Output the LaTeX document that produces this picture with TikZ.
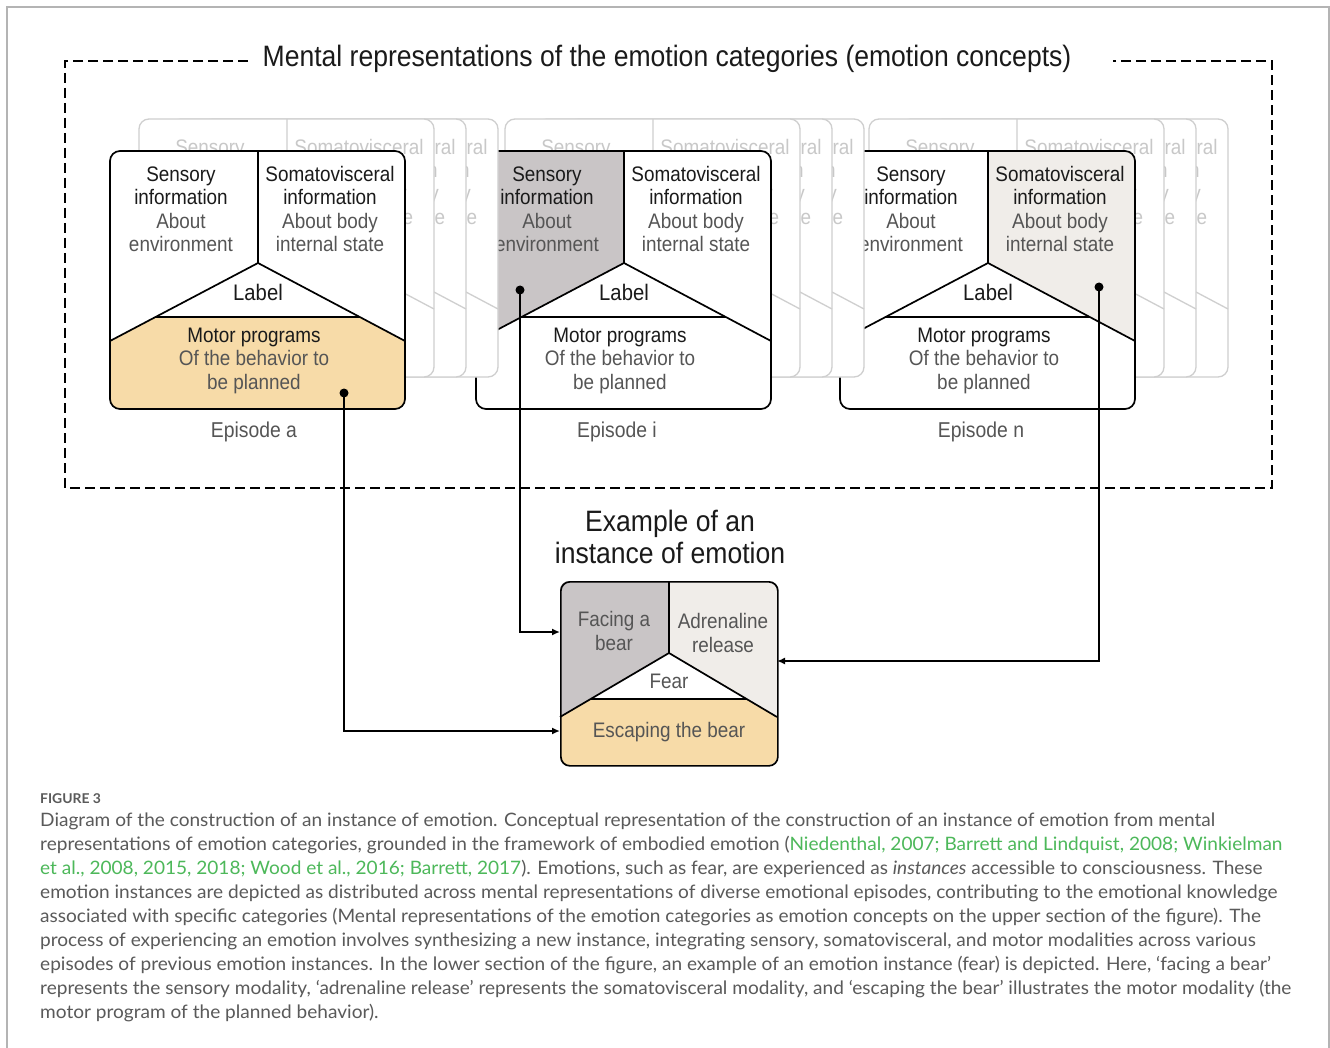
\documentclass[tikz,border=0pt]{standalone}
\usepackage{fontspec}
\setmainfont{Liberation Sans}
\newfontfamily\cardfont[FakeStretch=0.9]{Liberation Sans}
\newfontfamily\capfont[FakeStretch=1.03]{Lato}
\usetikzlibrary{arrows.meta}
\definecolor{ghostline}{HTML}{CFCFCF}
\definecolor{ghosttext}{HTML}{C8C8C8}
\definecolor{subgray}{HTML}{555555}
\definecolor{maintext}{HTML}{1A1A1A}
\definecolor{sensfill}{HTML}{C9C5C6}
\definecolor{somafill}{HTML}{F0EDE9}
\definecolor{motorfill}{HTML}{F7DBA8}
\definecolor{capgray}{HTML}{5A5A5A}
\definecolor{citegreen}{HTML}{4DB85A}
\definecolor{framegray}{HTML}{B4B4B4}
\tikzset{
  frontstroke/.style={draw=black, line width=1.7pt},
  ghoststroke/.style={draw=ghostline, line width=1.3pt},
  ctxt/.style={font=\cardfont\fontsize{21}{24}\selectfont, inner sep=0pt, anchor=base},
  ltxt/.style={font=\cardfont\fontsize{22.5}{26}\selectfont, inner sep=0pt, anchor=base},
  bigtxt/.style={font=\cardfont\fontsize{29.5}{32}\selectfont, inner sep=0pt, anchor=base, text=maintext},
  eptxt/.style={font=\cardfont\fontsize{21.5}{24}\selectfont, inner sep=0pt, anchor=base, text=subgray},
  captxt/.style={font=\capfont\fontsize{18.5}{24}\selectfont, inner sep=0pt, anchor=base west, text=capgray},
  conn/.style={line width=2.3pt, -{Latex[length=8pt,width=7pt]}},
  dotmark/.style={fill=black},
  dashbox/.style={line width=2.2pt, dash pattern=on 10pt off 5pt},
}
\newif\ifghostcard
\newif\ifghostsens
% card outline and cells: #1 x, #2 y, #3 stroke style, #4 #5 #6 fills
\newcommand\cardshape[6]{%
\begin{scope}[shift={(#1,#2)}]
\fill[white, rounded corners=10pt] (0,0) rectangle (295,258);
\begin{scope}
\clip[rounded corners=10pt] (0,0) rectangle (295,258);
\fill[#4] (0,0) -- (148,0) -- (148,112) -- (0,190) -- cycle;
\fill[#5] (148,0) -- (295,0) -- (295,190) -- (148,112) -- cycle;
\fill[#6] (0,190) -- (45.5,166) -- (249.8,166) -- (295,190) -- (295,258) -- (0,258) -- cycle;
\end{scope}
\draw[#3] (148,0) -- (148,112) (0,190) -- (148,112) -- (295,190) (45.5,166) -- (249.8,166);
\draw[#3, rounded corners=10pt] (0,0) rectangle (295,258);
\end{scope}}
% front card: #1 x, #2 y, #3 prefix, #4 #5 #6 fills
\newcommand\frontcard[6]{%
\cardshape{#1}{#2}{frontstroke}{#4}{#5}{#6}%
\begin{scope}[shift={(#1,#2)}]
\node[ctxt, text=maintext] (#3s1) at (71,30.7) {Sensory};
\node[ctxt, text=maintext] (#3s2) at (71,54) {information};
\node[ctxt, text=subgray] (#3s3) at (71,77.5) {About};
\node[ctxt, text=subgray] (#3s4) at (71,101) {environment};
\node[ctxt, text=maintext] (#3v1) at (220,30.7) {Somatovisceral};
\node[ctxt, text=maintext] (#3v2) at (220,54) {information};
\node[ctxt, text=subgray] (#3v3) at (220,77.5) {About body};
\node[ctxt, text=subgray] (#3v4) at (220,101) {internal state};
\node[ltxt, text=maintext] (#3l) at (148,149.7) {Label};
\node[ctxt, text=maintext] (#3m1) at (144,191.3) {Motor programs};
\node[ctxt, text=subgray] (#3m2) at (144,214.7) {Of the behavior to};
\node[ctxt, text=subgray] (#3m3) at (144,238.3) {be planned};
\end{scope}}
% ghost card (only the texts that can show): #1 x, #2 y, #3 prefix
\newcommand\ghostcard[3]{%
\cardshape{#1}{#2}{ghoststroke}{white}{white}{white}%
\begin{scope}[shift={(#1,#2)}, every node/.append style={text=ghosttext}]
\ifghostsens\node[ctxt] (#3s1) at (71,35.2) {Sensory};\fi
\node[ctxt] (#3v1) at (220,35.2) {Somatovisceral};
\node[ctxt] (#3v2) at (220,58.5) {information};
\node[ctxt] (#3v3) at (220,82) {About body};
\node[ctxt] (#3v4) at (220,105.5) {internal state};
\end{scope}}
\newcommand\ghostset[2]{%
\ghostsensfalse
\ghostcard{#1+93}{#2-32}{g3#1}%
\ghostcard{#1+61}{#2-32}{g2#1}%
\ghostsenstrue
\ghostcard{#1+29}{#2-32}{g1#1}}
\begin{document}
\begin{tikzpicture}[x=1pt,y=-1pt]
\useasboundingbox (0,0) rectangle (1330,1048);
\fill[white] (0,0) rectangle (1330,1048);
\draw[framegray, line width=1.5pt] (7,1048) -- (7,7) -- (1329,7) -- (1329,1048);
% episodes, drawn right to left
\ghostset{840}{151}
\frontcard{840}{151}{en}{white}{somafill}{white}
\ghostset{476}{151}
\frontcard{476}{151}{ei}{sensfill}{white}{white}
\ghostset{110}{151}
\frontcard{110}{151}{ea}{white}{white}{motorfill}
\node[eptxt] (epa) at (254,437.5) {Episode a};
\node[eptxt] (epi) at (617,437.5) {Episode i};
\node[eptxt] (epn) at (981,437.5) {Episode n};
% dashed frame
\draw[dashbox] (248,61) -- (65,61) -- (65,488) -- (1272,488) -- (1272,61) -- (1113,61);
\node[bigtxt] (title) at (667,67) {Mental representations of the emotion categories (emotion concepts)};
% instance
\node[bigtxt] (ex1) at (670,531.5) {Example of an};
\node[bigtxt] (ex2) at (670,563.5) {instance of emotion};
\begin{scope}[shift={(560,581)}]
\begin{scope}
\clip[rounded corners=9pt] (0,0) rectangle (217,184);
\fill[sensfill] (0,0) -- (109,0) -- (109,72) -- (0,136) -- cycle;
\fill[somafill] (109,0) -- (217,0) -- (217,136) -- (109,72) -- cycle;
\fill[motorfill] (0,136) -- (30.7,118) -- (186.6,118) -- (217,136) -- (217,184) -- (0,184) -- cycle;
\end{scope}
\draw[frontstroke] (109,0) -- (109,72) (0,136) -- (109,72) -- (217,136) (30.7,118) -- (186.6,118);
\node[ctxt, text=subgray] (fa1) at (54,45.5) {Facing a};
\node[ctxt, text=subgray] (fa2) at (54,69.5) {bear};
\node[ctxt, text=subgray] (ad1) at (163,47.8) {Adrenaline};
\node[ctxt, text=subgray] (ad2) at (163,71.8) {release};
\node[ctxt, text=subgray] (fear) at (109,107.8) {Fear};
\node[ctxt, text=subgray] (esc) at (109,156.8) {Escaping the bear};
\end{scope}
\node[frontstroke, rounded corners=9pt, minimum width=217pt, minimum height=184pt, inner sep=0pt, anchor=north west] (inst) at (560,581) {};
% connectors
\coordinate (dA) at (344,393);
\coordinate (dI) at (520,290);
\coordinate (dN) at (1099,287);
\coordinate (inA) at (560,731);
\coordinate (inI) at (560,632);
\coordinate (inN) at (777,661);
\draw[conn] (dA) |- (inA);
\draw[conn] (dI) |- (inI);
\draw[conn] (dN) |- (inN);
\fill[dotmark] (dA) circle (4.5);
\fill[dotmark] (dI) circle (4.5);
\fill[dotmark] (dN) circle (4.5);
% caption
\node[anchor=base west, inner sep=0pt, font=\capfont\bfseries\fontsize{13.5}{16}\selectfont, text=capgray] (fig) at (40,803) {FIGURE 3};
\node[captxt] (c1) at (40,826) {Diagram of the construction of an instance of emotion. Conceptual representation of the construction of an instance of emotion from mental};
\node[captxt] (c2) at (40,850) {representations of emotion categories, grounded in the framework of embodied emotion (\textcolor{citegreen}{Niedenthal, 2007; Barrett and Lindquist, 2008; Winkielman}};
\node[captxt] (c3) at (40,874) {\textcolor{citegreen}{et al., 2008, 2015, 2018; Wood et al., 2016; Barrett, 2017}). Emotions, such as fear, are experienced as \textit{instances} accessible to consciousness. These};
\node[captxt] (c4) at (40,898) {emotion instances are depicted as distributed across mental representations of diverse emotional episodes, contributing to the emotional knowledge};
\node[captxt] (c5) at (40,922) {associated with specific categories (Mental representations of the emotion categories as emotion concepts on the upper section of the figure). The};
\node[captxt] (c6) at (40,946) {process of experiencing an emotion involves synthesizing a new instance, integrating sensory, somatovisceral, and motor modalities across various};
\node[captxt] (c7) at (40,970) {episodes of previous emotion instances. In the lower section of the figure, an example of an emotion instance (fear) is depicted. Here, ‘facing a bear’};
\node[captxt] (c8) at (40,994) {represents the sensory modality, ‘adrenaline release’ represents the somatovisceral modality, and ‘escaping the bear’ illustrates the motor modality (the};
\node[captxt] (c9) at (40,1018) {motor program of the planned behavior).};
\end{tikzpicture}
\end{document}
